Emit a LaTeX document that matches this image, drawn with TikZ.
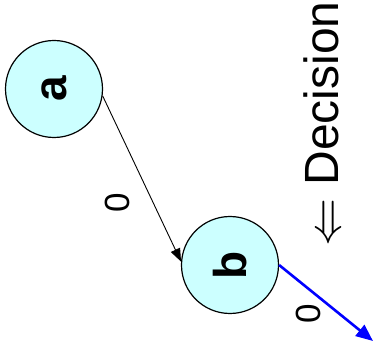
\documentclass[tikz,border=0pt]{standalone}
\usepackage{fontspec}
\usepackage{graphicx}
\setmainfont{Liberation Sans}
\usetikzlibrary{arrows.meta}
\definecolor{nodefill}{HTML}{CCFFFF}
\definecolor{edgeblue}{RGB}{0,0,255}
\begin{document}
\begin{tikzpicture}[x=1pt,y=1pt,
  statenode/.style={circle,draw=black,line width=1.2pt,fill=nodefill,minimum size=97pt,inner sep=0pt,
    font=\fontsize{46}{50}\selectfont\bfseries},
  edgelabel/.style={font=\fontsize{35}{40}\selectfont,rotate=90,inner sep=0pt},
  plainedge/.style={draw=black,line width=0.9pt,-{Triangle[length=13pt,width=10pt]}},
  blueedge/.style={draw=edgeblue,line width=2.6pt,-{Triangle[length=17pt,width=14pt]}}]
\useasboundingbox (0,0) rectangle (375,-355);
\node[statenode] (a) at (54,-89) {\rotatebox{90}{a}};
\node[statenode] (b) at (230,-265) {\rotatebox{90}{b}};
\coordinate (out) at (373,-341);
\draw[plainedge] (a.-8) -- (b.176);
\draw[blueedge] (b.0) -- (out);
\node[edgelabel] (l1) at (117,-203) {0};
\node[edgelabel] (l2) at (308,-314) {0};
\node[rotate=90,inner sep=0pt,font=\fontsize{48}{52}\selectfont] (dec) at (322,-124) {{\fontsize{10}{12}\selectfont\raisebox{-2pt}{\scalebox{4.8}{$\Leftarrow$}}} Decision};
\end{tikzpicture}
\end{document}
